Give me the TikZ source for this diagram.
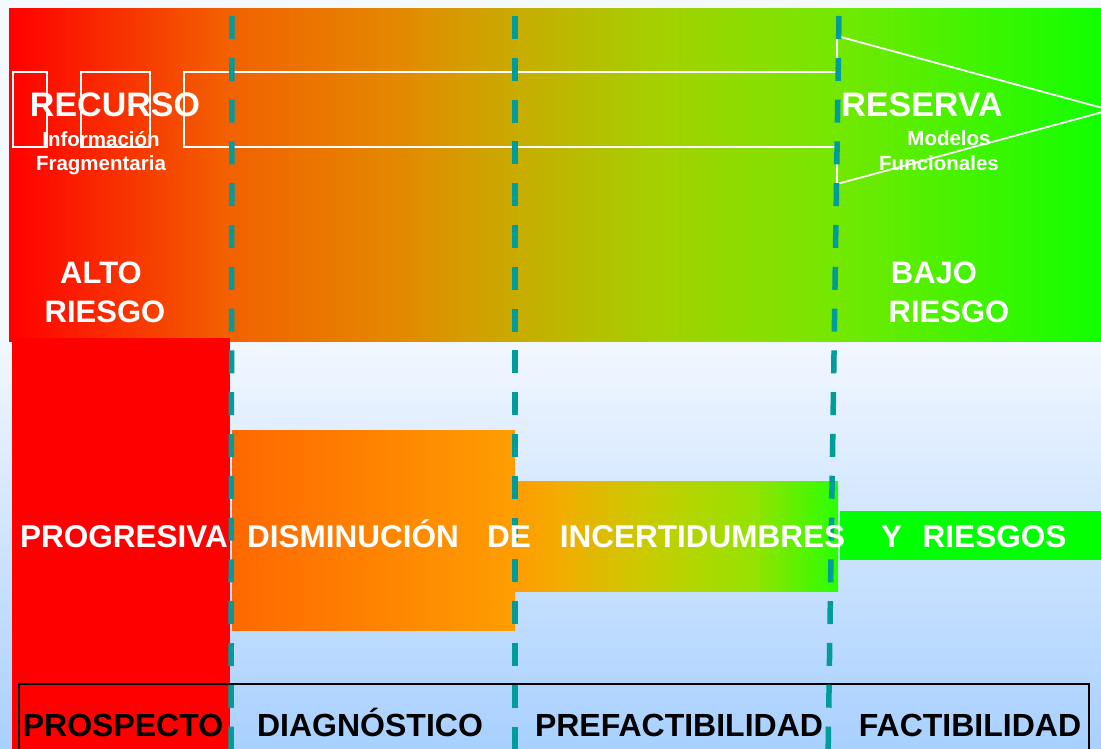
\documentclass[tikz,border=0pt]{standalone}
\usepackage{fontspec}
\setmainfont{Liberation Sans}
\definecolor{bgtop}{HTML}{F4F8FF}
\definecolor{bglow1}{HTML}{F2F7FF}
\definecolor{bglow2}{HTML}{A8D0FF}
\definecolor{teal1}{HTML}{009C9C}
\definecolor{redA}{HTML}{FF0000}
\definecolor{oranA}{HTML}{FF6800}
\definecolor{oranB}{HTML}{FF9E00}
\definecolor{greenA}{HTML}{00FF00}
\pgfdeclarehorizontalshading{bandshade}{100bp}{rgb(0bp)=(1,0,0); rgb(25bp)=(1,0,0); rgb(35bp)=(0.95,0.38,0); rgb(43bp)=(0.89,0.54,0); rgb(48.5bp)=(0.78,0.68,0); rgb(55bp)=(0.64,0.82,0); rgb(63bp)=(0.45,0.91,0); rgb(75bp)=(0.07,1,0); rgb(100bp)=(0.07,1,0)}
\pgfdeclarehorizontalshading{midshade}{100bp}{rgb(0bp)=(1,0.61,0); rgb(25bp)=(1,0.61,0); rgb(32bp)=(0.95,0.68,0); rgb(46bp)=(0.78,0.80,0); rgb(62bp)=(0.58,0.89,0); rgb(75bp)=(0.16,1,0); rgb(100bp)=(0.16,1,0)}
\begin{document}
\begin{tikzpicture}[x=1pt,y=-1pt,
  outline/.style={draw=white,line width=1.8pt},
  dashline/.style={draw=teal1,line width=5.5pt,dash pattern=on 23pt off 18.8pt},
  bigw/.style={text=white,font=\bfseries\fontsize{34}{34}\selectfont,anchor=base,inner sep=0pt},
  smallw/.style={text=white,font=\bfseries\fontsize{20.5}{20.5}\selectfont,anchor=base,inner sep=0pt},
  riskw/.style={text=white,font=\bfseries\fontsize{31}{31}\selectfont,anchor=base,inner sep=0pt},
  midw/.style={text=white,font=\bfseries\fontsize{31.5}{31.5}\selectfont,anchor=base,inner sep=0pt},
  phase/.style={text=black,font=\bfseries\fontsize{32}{32}\selectfont,anchor=base,inner sep=0pt}]
\useasboundingbox (0,0) rectangle (1101,749);
\clip (0,0) rectangle (1101,749);
% background
\fill[bgtop] (0,0) rectangle (1101,341);
\shade[top color=bglow1,bottom color=bglow2] (0,341) rectangle (1101,749);
% top gradient band
\shade[shading=bandshade] (9,9) rectangle (1101,341);
% red column
\fill[redA] (12,338) rectangle (230,749);
% step boxes
\shade[left color=oranA,right color=oranB] (232,430) rectangle (515,630);
\shade[shading=midshade] (515,481) rectangle (838,591);
\fill[greenA] (840,511) rectangle (1101,560);
% phase frame
\draw[black,line width=2pt] (19,684) rectangle (1089,770);
% white outline arrow
\draw[outline] (13,72) rectangle (47,147);
\draw[outline] (81,72) rectangle (150,147);
\draw[outline] (184,72) -- (837,72) -- (837,36) -- (1110,110) -- (837,184) -- (837,147) -- (184,147) -- cycle;
% dashed dividers
\coordinate (d1t) at (232,16); \coordinate (d1b) at (231,760);
\coordinate (d2t) at (515,16); \coordinate (d2b) at (515,760);
\coordinate (d3t) at (839,16); \coordinate (d3b) at (828,760);
\draw[dashline] (d1t) -- (d1b);
\draw[dashline] (d2t) -- (d2b);
\draw[dashline] (d3t) -- (d3b);
% texts
\node[bigw] (rec) at (115,117) {RECURSO};
\node[smallw] (info) at (101,147) {Información};
\node[smallw] (frag) at (101,171) {Fragmentaria};
\node[bigw] (res) at (922,117) {RESERVA};
\node[smallw] (mod) at (949,146) {Modelos};
\node[smallw] (func) at (939,171) {Funcionales};
\node[riskw] (alto) at (101,283) {ALTO};
\node[riskw] (riesgoL) at (105,322) {RIESGO};
\node[riskw] (bajo) at (934,283) {BAJO};
\node[riskw] (riesgoR) at (949,322) {RIESGO};
\node[midw] (prog) at (124,547.5) {PROGRESIVA};
\node[midw] (dism) at (353,547.5) {DISMINUCIÓN};
\node[midw] (de) at (509,547.5) {DE};
\node[midw] (incert) at (702.5,547.5) {INCERTIDUMBRES};
\node[midw] (yy) at (891.5,547.5) {Y};
\node[midw] (riesgos) at (994.5,547.5) {RIESGOS};
\node[phase] (prosp) at (123,736) {PROSPECTO};
\node[phase] (diag) at (370,736) {DIAGNÓSTICO};
\node[phase] (prefact) at (679,736) {PREFACTIBILIDAD};
\node[phase] (fact) at (970,736) {FACTIBILIDAD};
\end{tikzpicture}
\end{document}
